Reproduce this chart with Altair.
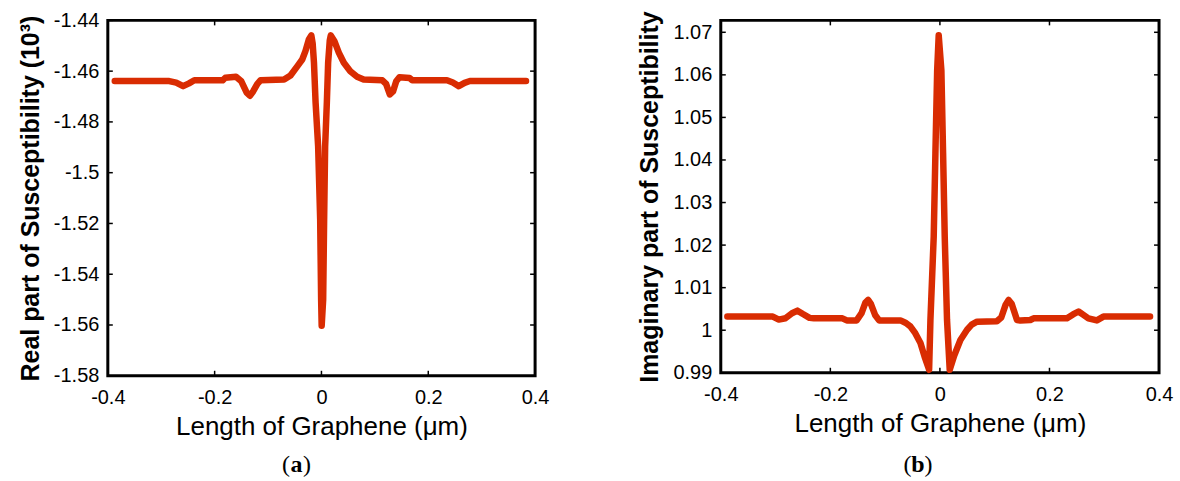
import altair as alt
import pandas as pd

# ---------------- data ----------------
real_x = [-0.387, -0.285, -0.272, -0.259, -0.248, -0.238, -0.185, -0.180, -0.160, -0.150,
          -0.140, -0.134, -0.128, -0.120, -0.114, -0.070, -0.058, -0.045, -0.036, -0.030,
          -0.0236, -0.019, -0.0165, -0.014, -0.011, -0.0062, -0.0024, -0.0006, 0.0004,
          0.0032, 0.005, 0.0069, 0.0101, 0.0125, 0.0155, 0.0175, 0.0243, 0.0325, 0.0419,
          0.054, 0.0667, 0.079, 0.114, 0.121, 0.128, 0.134, 0.140, 0.146, 0.165, 0.170,
          0.235, 0.246, 0.257, 0.268, 0.278, 0.383]
real_y = [-1.4639, -1.4639, -1.4645, -1.4659, -1.4648, -1.4636, -1.4636, -1.4626, -1.4622, -1.4640,
          -1.4685, -1.4697, -1.4680, -1.4650, -1.4636, -1.4633, -1.4617, -1.4580, -1.4554, -1.4521,
          -1.4475, -1.4459, -1.4490, -1.4567, -1.4723, -1.4897, -1.5185, -1.5500, -1.5603,
          -1.5500, -1.5185, -1.4897, -1.4723, -1.4567, -1.4480, -1.4459, -1.4482, -1.4527, -1.4567,
          -1.4600, -1.4622, -1.4633, -1.4636, -1.4650, -1.4692, -1.4680, -1.4640, -1.4624, -1.4627, -1.4636,
          -1.4636, -1.4645, -1.4659, -1.4646, -1.4639, -1.4639]

imag_x = [-0.388, -0.305, -0.294, -0.282, -0.270, -0.260, -0.250, -0.238, -0.230, -0.178,
          -0.170, -0.152, -0.143, -0.136, -0.131, -0.126, -0.118, -0.111, -0.072, -0.062,
          -0.054, -0.045, -0.0355, -0.028, -0.0197, -0.0173, -0.0113, -0.0082, -0.005, -0.0022,
          0.0027, 0.0058, 0.0088, 0.013, 0.0179, 0.026, 0.0374, 0.0496, 0.058, 0.0678,
          0.104, 0.112, 0.120, 0.1254, 0.131, 0.1407, 0.1467, 0.165, 0.171, 0.232,
          0.243, 0.253, 0.262, 0.271, 0.2865, 0.2985, 0.3836]
imag_y = [1.0032, 1.0032, 1.0025, 1.0028, 1.0040, 1.0046, 1.0038, 1.0029, 1.0028, 1.0028,
          1.0023, 1.0023, 1.0040, 1.0065, 1.0071, 1.0062, 1.0035, 1.0023, 1.0023, 1.0017,
          1.0009, 0.9993, 0.9970, 0.9938, 0.9907, 1.0024, 1.0220, 1.0416, 1.0611, 1.0693,
          1.0610, 1.0416, 1.0220, 1.0024, 0.9907, 0.9940, 0.9977, 1.0001, 1.0013, 1.0020,
          1.0021, 1.0030, 1.0060, 1.0071, 1.0062, 1.0024, 1.0023, 1.0024, 1.0028, 1.0028,
          1.0037, 1.0044, 1.0036, 1.0028, 1.0023, 1.0032, 1.0032]

x_ticks = [-0.4, -0.2, 0, 0.2, 0.4]
real_ticks = [-1.58, -1.56, -1.54, -1.52, -1.5, -1.48, -1.46, -1.44]
imag_ticks = [0.99, 1, 1.01, 1.02, 1.03, 1.04, 1.05, 1.06, 1.07]

x_domain = [-0.4, 0.4]
real_domain = [-1.58, -1.44]
imag_domain = [0.99, 1.0728]

x_title = "Length of Graphene (\u03bcm)"
real_title = "Real part of Susceptibility (10\u00b3)"
imag_title = "Imaginary part of Susceptibility"

LINE = "#d92c02"
FONT = "Liberation Sans"


def panel(xs, ys, yticks, ydomain, ytitle, W, H, cap, cap_dx, cap_dy):
    df = pd.DataFrame({"x": xs, "y": ys})
    xscale = alt.Scale(domain=x_domain, nice=False, zero=False)
    yscale = alt.Scale(domain=ydomain, nice=False, zero=False)
    xaxis = alt.Axis(values=x_ticks, labelExpr="'' + datum.value", ticks=False, tickSize=0,
                     domain=False, grid=False, labelFontSize=20, labelFont=FONT,
                     labelColor="black", labelPadding=12, labelFlush=False, labelOverlap=False,
                     title=x_title, titleFont=FONT, titleFontSize=26, titleFontWeight="normal",
                     titleColor="black", titlePadding=6)
    yaxis = alt.Axis(values=yticks, labelExpr="'' + datum.value", ticks=False, tickSize=0,
                     domain=False, grid=False, labelFontSize=20, labelFont=FONT,
                     labelColor="black", labelPadding=9, labelFlush=False, labelOverlap=False,
                     title=ytitle, titleFont=FONT, titleFontSize=25, titleFontWeight="bold",
                     titleColor="black", titlePadding=10)
    X = lambda f: alt.X(f, scale=xscale, axis=xaxis, title=x_title)
    Y = lambda f: alt.Y(f, scale=yscale, axis=yaxis, title=ytitle)

    line = alt.Chart(df).mark_line(color=LINE, strokeWidth=6.5, strokeJoin="round",
                                   strokeCap="round").encode(
        x=X("x:Q"), y=Y("y:Q"), order="i:Q",
    ).transform_window(i="row_number()")

    xt = pd.DataFrame({"x": x_ticks})
    yt = pd.DataFrame({"y": yticks})
    tick_style = dict(color="black", strokeWidth=1.5)
    xb = alt.Chart(xt).mark_rule(**tick_style).encode(
        x=X("x:Q"), y=alt.value(H), y2=alt.value(H - 5))
    xtp = alt.Chart(xt).mark_rule(**tick_style).encode(
        x=X("x:Q"), y=alt.value(0), y2=alt.value(5))
    yl = alt.Chart(yt).mark_rule(**tick_style).encode(
        y=Y("y:Q"), x=alt.value(0), x2=alt.value(5))
    yr = alt.Chart(yt).mark_rule(**tick_style).encode(
        y=Y("y:Q"), x=alt.value(W), x2=alt.value(W - 5))

    cx = W / 2 + cap_dx
    cy = H + cap_dy
    cap_df = pd.DataFrame({"c": [cap]})
    c_mid = alt.Chart(cap_df).mark_text(font="Liberation Serif", fontSize=24, fontWeight="bold",
                                        align="center", baseline="middle", color="black").encode(
        x=alt.value(cx), y=alt.value(cy), text="c:N")
    c_l = alt.Chart(cap_df).mark_text(font="Liberation Serif", fontSize=24, align="right",
                                      baseline="middle", color="black", text="(").encode(
        x=alt.value(cx - 6.5), y=alt.value(cy))
    c_r = alt.Chart(cap_df).mark_text(font="Liberation Serif", fontSize=24, align="left",
                                      baseline="middle", color="black", text=")").encode(
        x=alt.value(cx + 6.5), y=alt.value(cy))

    return alt.layer(line, xb, xtp, yl, yr, c_l, c_mid, c_r).properties(width=W, height=H)


left = panel(real_x, real_y, real_ticks, real_domain, real_title, 428, 356, "a", -25, 89)
right = panel(imag_x, imag_y, imag_ticks, imag_domain, imag_title, 439, 353, "b", -22, 92)

chart = alt.hconcat(left, right, spacing=85).properties(
    padding={"left": 16, "top": 8, "right": 5, "bottom": 2}
).configure_view(stroke="black", strokeWidth=3)

chart.save("out.html", embed_options={"renderer": "svg", "actions": False})
